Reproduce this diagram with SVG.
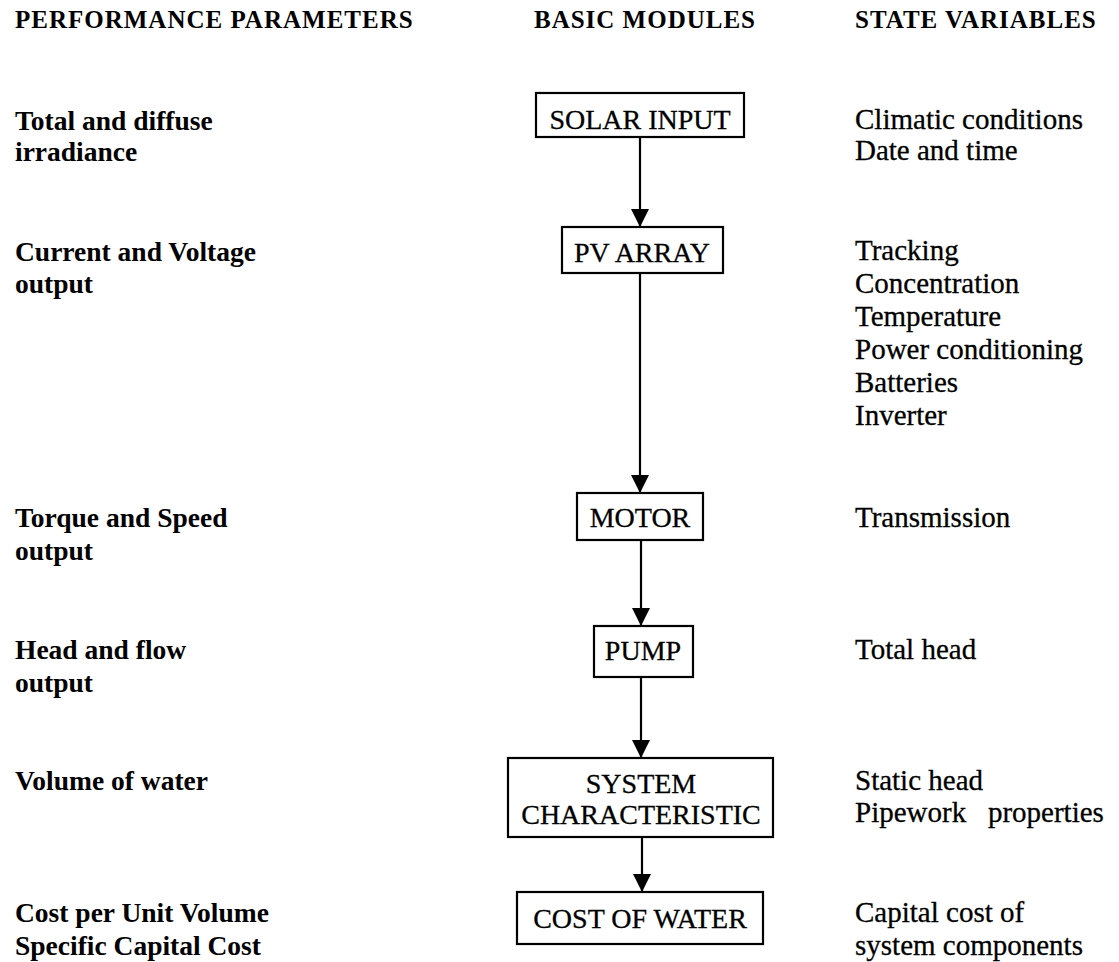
<svg xmlns="http://www.w3.org/2000/svg" width="1119" height="962" viewBox="0 0 1119 962">
<style>
.hdr{font-family:"Liberation Serif","Times New Roman",serif;font-weight:bold;font-size:25px;letter-spacing:1px;fill:#000}
.perf{font-family:"Liberation Serif","Times New Roman",serif;font-weight:bold;font-size:27.5px;fill:#000}
.state{font-family:"Liberation Serif","Times New Roman",serif;font-size:29px;fill:#000;stroke:#000;stroke-width:0.3;white-space:pre}
.lbl{font-family:"Liberation Serif","Times New Roman",serif;font-size:28px;fill:#000;stroke:#000;stroke-width:0.3;text-anchor:middle}
.box{fill:#fff;stroke:#000;stroke-width:2.2}
.conn{stroke:#000;stroke-width:2.2;fill:none}
</style>
<defs>
<marker id="arrow" markerUnits="userSpaceOnUse" markerWidth="18" markerHeight="22" refX="18" refY="9" orient="auto">
<path d="M0,0 L18,9 L0,18 Z" fill="#000"/>
</marker>
</defs>
<rect width="1119" height="962" fill="#fff"/>
<g id="headers">
<text class="hdr" x="15" y="28">PERFORMANCE PARAMETERS</text>
<text class="hdr" x="645" y="28" text-anchor="middle">BASIC MODULES</text>
<text class="hdr" x="855" y="28">STATE VARIABLES</text>
</g>
<g id="performance">
<text class="perf" x="15" y="130">Total and diffuse</text>
<text class="perf" x="15" y="161">irradiance</text>
<text class="perf" x="15" y="261">Current and Voltage</text>
<text class="perf" x="15" y="293">output</text>
<text class="perf" x="15" y="527">Torque and Speed</text>
<text class="perf" x="15" y="560">output</text>
<text class="perf" x="15" y="659">Head and flow</text>
<text class="perf" x="15" y="692">output</text>
<text class="perf" x="15" y="790">Volume of water</text>
<text class="perf" x="15" y="922">Cost per Unit Volume</text>
<text class="perf" x="15" y="955">Specific Capital Cost</text>
</g>
<g id="state">
<text class="state" x="855" y="129">Climatic conditions</text>
<text class="state" x="855" y="160">Date and time</text>
<text class="state" x="855" y="260">Tracking</text>
<text class="state" x="855" y="293">Concentration</text>
<text class="state" x="855" y="326">Temperature</text>
<text class="state" x="855" y="359">Power conditioning</text>
<text class="state" x="855" y="392">Batteries</text>
<text class="state" x="855" y="425">Inverter</text>
<text class="state" x="855" y="527">Transmission</text>
<text class="state" x="855" y="659">Total head</text>
<text class="state" x="855" y="790">Static head</text>
<text class="state" x="855" y="822">Pipework   properties</text>
<text class="state" x="855" y="922">Capital cost of</text>
<text class="state" x="855" y="955">system components</text>
</g>
<g id="connectors">
<line class="conn" x1="640" y1="137" x2="640" y2="227" marker-end="url(#arrow)"/>
<line class="conn" x1="640" y1="273" x2="640" y2="493" marker-end="url(#arrow)"/>
<line class="conn" x1="641" y1="540" x2="641" y2="626" marker-end="url(#arrow)"/>
<line class="conn" x1="641" y1="677" x2="641" y2="758" marker-end="url(#arrow)"/>
<line class="conn" x1="642" y1="837" x2="642" y2="892" marker-end="url(#arrow)"/>
</g>
<g id="solar-input">
<rect class="box" x="536" y="93" width="208" height="44"/>
<text class="lbl" x="640" y="129">SOLAR INPUT</text>
</g>
<g id="pv-array">
<rect class="box" x="562" y="227" width="161" height="46"/>
<text class="lbl" x="642" y="262">PV ARRAY</text>
</g>
<g id="motor">
<rect class="box" x="577" y="493" width="126" height="47"/>
<text class="lbl" x="640" y="527">MOTOR</text>
</g>
<g id="pump">
<rect class="box" x="594" y="626" width="99" height="51"/>
<text class="lbl" x="643" y="660">PUMP</text>
</g>
<g id="system-characteristic">
<rect class="box" x="508" y="758" width="265" height="79"/>
<text class="lbl" x="641" y="793">SYSTEM</text>
<text class="lbl" x="641" y="824">CHARACTERISTIC</text>
</g>
<g id="cost-of-water">
<rect class="box" x="517" y="892" width="246" height="52"/>
<text class="lbl" x="640" y="928">COST OF WATER</text>
</g>
</svg>
